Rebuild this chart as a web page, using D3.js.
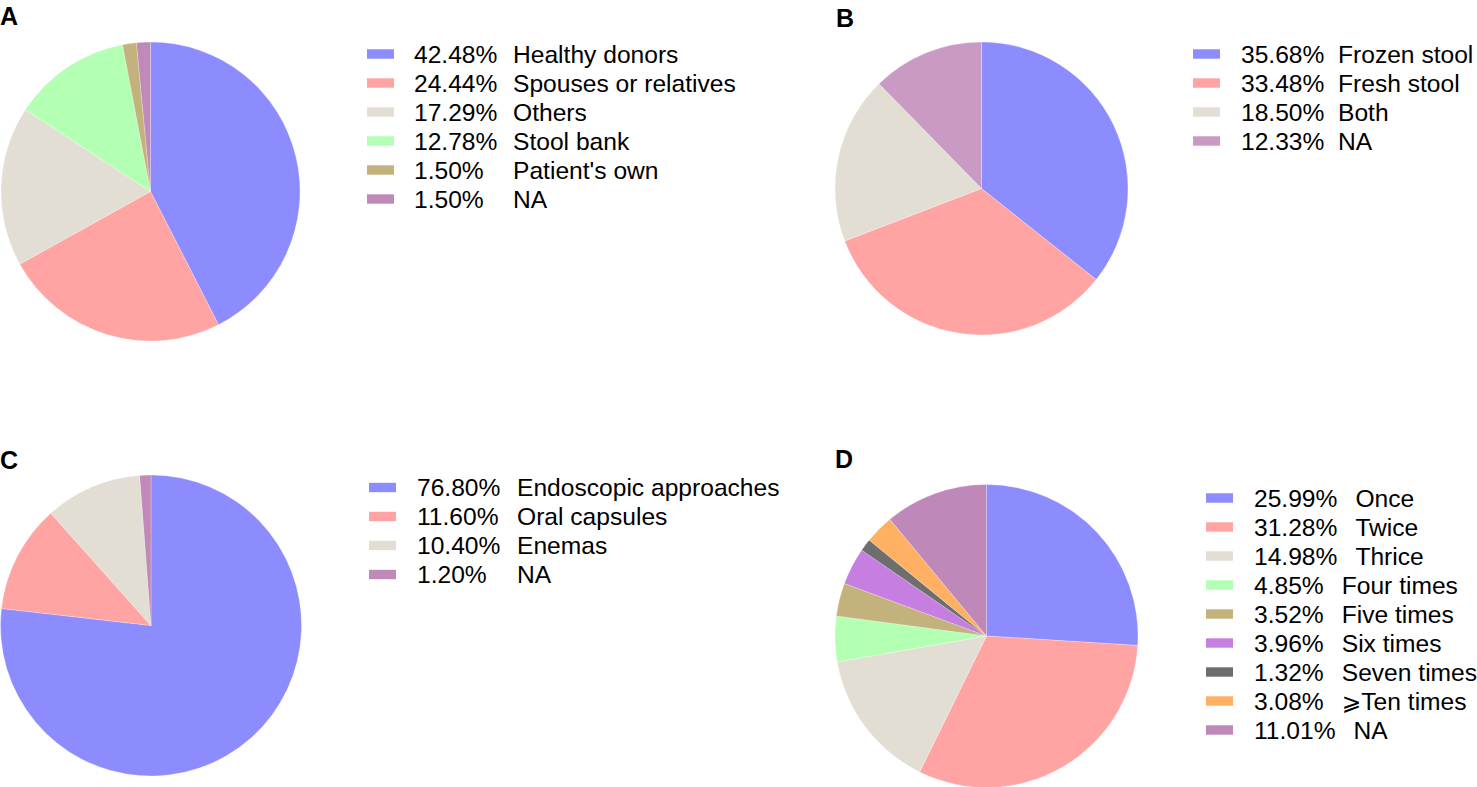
<!DOCTYPE html>
<html>
<head>
<meta charset="utf-8">
<script src="https://cdn.jsdelivr.net/npm/d3@7/dist/d3.min.js"></script>
<style>
  html, body { margin: 0; padding: 0; background: #fff; }
  svg { display: block; }
  text { font-family: "Liberation Sans", Arial, "DejaVu Sans", sans-serif; fill: #000; }
  .sym { font-family: "DejaVu Sans", sans-serif; }
</style>
</head>
<body>
<svg id="chart" width="1477" height="787"></svg>
<script>
// ---- Data ----
const labelsA = ["Healthy donors", "Spouses or relatives", "Others", "Stool bank", "Patient's own", "NA"];
const valuesA = [42.48, 24.44, 17.29, 12.78, 1.50, 1.50];
const colorsA = ["#8c8cff", "#ffa3a3", "#e3ded4", "#b3ffb3", "#c4b27c", "#c08ab8"];

const labelsB = ["Frozen stool", "Fresh stool", "Both", "NA"];
const valuesB = [35.68, 33.48, 18.50, 12.33];
const colorsB = ["#8c8cff", "#ffa3a3", "#e3ded4", "#c99bc4"];

const labelsC = ["Endoscopic approaches", "Oral capsules", "Enemas", "NA"];
const valuesC = [76.80, 11.60, 10.40, 1.20];
const colorsC = ["#8c8cff", "#ffa3a3", "#e3ded4", "#c08ab8"];

const labelsD = ["Once", "Twice", "Thrice", "Four times", "Five times", "Six times", "Seven times", "\u2A7ETen times", "NA"];
const valuesD = [25.99, 31.28, 14.98, 4.85, 3.52, 3.96, 1.32, 3.08, 11.01];
const colorsD = ["#8c8cff", "#ffa3a3", "#e3ded4", "#b3ffb3", "#c4b27c", "#c67ee0", "#6e6e6e", "#ffb063", "#be88b8"];

const panelLetters = ["A", "B", "C", "D"];

// ---- Layout ----
const panels = [
  { letter: panelLetters[0], labels: labelsA, values: valuesA, colors: colorsA,
    cx: 150.5, cy: 191.5, r: 149.5, lx: 0, ly: 25,
    legX: 367, legY: 54, pctX: 414, labX: 513, mode: "column" },
  { letter: panelLetters[1], labels: labelsB, values: valuesB, colors: colorsB,
    cx: 981.5, cy: 188.5, r: 146.5, lx: 836, ly: 27,
    legX: 1193, legY: 54, pctX: 1241, labX: 1338, mode: "column" },
  { letter: panelLetters[2], labels: labelsC, values: valuesC, colors: colorsC,
    cx: 151, cy: 625.5, r: 150.5, lx: 0, ly: 469,
    legX: 369, legY: 487.5, pctX: 417, labX: 517, mode: "column" },
  { letter: panelLetters[3], labels: labelsD, values: valuesD, colors: colorsD,
    cx: 986.5, cy: 636, r: 151.5, lx: 835, ly: 468,
    legX: 1206, legY: 498, pctX: 1254, labX: null, mode: "inline" }
];
const rowH = 29;
const fs = 24.6;
const base = 8.8;

const svg = d3.select("#chart");
const pie = d3.pie().sort(null).value(d => d);

function addLabel(sel, d) {
  // render special symbol with DejaVu Sans
  if (d.charAt(0) === "\u2A7E") {
    sel.append("tspan").attr("class", "sym").attr("font-size", fs * 0.95).text(d.charAt(0));
    sel.append("tspan").text(d.slice(1));
  } else {
    sel.append("tspan").text(d);
  }
}

panels.forEach(p => {
  const g = svg.append("g");
  const arc = d3.arc().innerRadius(0).outerRadius(p.r);
  const color = d3.scaleOrdinal().domain(p.labels).range(p.colors);
  const arcs = pie(p.values);

  g.append("g")
    .attr("transform", `translate(${p.cx},${p.cy})`)
    .selectAll("path")
    .data(arcs)
    .join("path")
    .attr("d", arc)
    .attr("fill", (d, i) => color(p.labels[i]))
    .attr("stroke", "#ffffff")
    .attr("stroke-width", 0.4)
    .attr("stroke-opacity", 0.6);

  // panel letter
  g.append("text")
    .attr("x", p.lx)
    .attr("y", p.ly)
    .attr("font-size", 25)
    .attr("font-weight", "bold")
    .text(p.letter);

  // legend
  const y = d3.scaleLinear().domain([0, 1]).range([p.legY, p.legY + rowH]);
  const rows = g.append("g").selectAll("g.row")
    .data(p.labels)
    .join("g")
    .attr("class", "row")
    .attr("transform", (d, i) => `translate(0,${y(i)})`);

  rows.append("rect")
    .attr("x", p.legX)
    .attr("y", -4.7)
    .attr("width", 27)
    .attr("height", 9.4)
    .attr("fill", d => color(d));

  if (p.mode === "column") {
    rows.append("text")
      .attr("x", p.pctX)
      .attr("y", base)
      .attr("font-size", fs)
      .text((d, i) => p.values[i].toFixed(2) + "%");
    rows.append("text")
      .attr("x", p.labX)
      .attr("y", base)
      .attr("font-size", fs)
      .each(function(d) { addLabel(d3.select(this), d); });
  } else {
    rows.each(function(d, i) {
      const t = d3.select(this).append("text")
        .attr("x", p.pctX)
        .attr("y", base)
        .attr("font-size", fs);
      t.append("tspan").text(p.values[i].toFixed(2) + "%");
      const first = t.append("tspan").attr("dx", 18);
      if (d.charAt(0) === "\u2A7E") {
        first.attr("class", "sym").attr("font-size", fs * 0.95).text(d.charAt(0));
        t.append("tspan").text(d.slice(1));
      } else {
        first.text(d);
      }
    });
  }
});
</script>
</body>
</html>
